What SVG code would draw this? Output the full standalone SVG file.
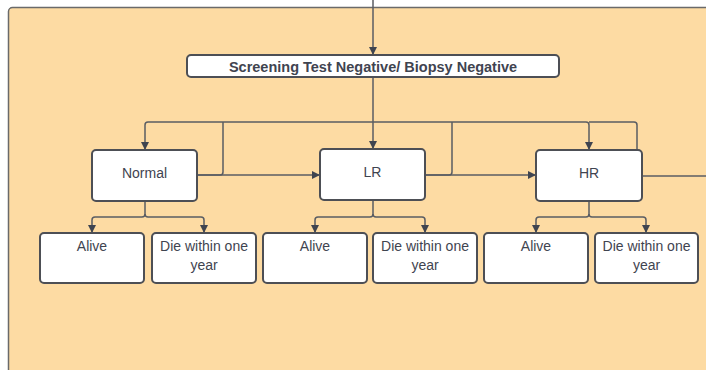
<svg xmlns="http://www.w3.org/2000/svg" width="706" height="370" viewBox="0 0 706 370">
<defs>
<marker id="arr" viewBox="0 0 10 10" refX="10" refY="5" markerWidth="8" markerHeight="8" markerUnits="userSpaceOnUse" orient="auto">
<path d="M0,0 L10,5 L0,10 z" fill="#3f4450"/>
</marker>
<style>
.node rect{fill:#ffffff;stroke:#4d4f55;stroke-width:2}
.lbl{font-family:"Liberation Sans",Arial,sans-serif;font-size:14px;fill:#3f4450;text-anchor:middle}
.ttl{font-family:"Liberation Sans",Arial,sans-serif;font-size:14.5px;font-weight:bold;fill:#3f4450;text-anchor:middle}
#connectors path{fill:none;stroke:#5a5d63;stroke-width:1.5}
.arrow{marker-end:url(#arr)}
</style>
</defs>
<rect x="0" y="0" width="706" height="370" fill="#ffffff"/>
<rect id="frame" x="8.5" y="7.5" width="720" height="400" rx="4" fill="#fddba3" stroke="#6a6a6a" stroke-width="1.5"/>

<g id="connectors">
<path class="arrow" d="M373,0 V55"/>
<path class="arrow" d="M373,77 V149"/>
<path class="arrow" d="M373,122 H148 Q145,122 145,125 V150"/>
<path class="arrow" d="M373,122 H586 Q589,122 589,125 V150"/>
<path d="M589,122 H634 Q637,122 637,125 V150"/>
<path d="M223,122 V172 Q223,175 220,175 H197"/>
<path class="arrow" d="M197,175 H320"/>
<path d="M452,122 V172 Q452,175 449,175 H425"/>
<path class="arrow" d="M425,175 H536"/>
<path d="M642,176 H706"/>
<path class="arrow" d="M145,201 V214 Q145,217 142,217 H95 Q92,217 92,220 V233"/>
<path class="arrow" d="M145,214 Q145,217 148,217 H201 Q204,217 204,220 V233"/>
<path class="arrow" d="M373,200 V214 Q373,217 370,217 H318 Q315,217 315,220 V233"/>
<path class="arrow" d="M373,214 Q373,217 376,217 H422 Q425,217 425,220 V233"/>
<path class="arrow" d="M589,201 V214 Q589,217 586,217 H539 Q536,217 536,220 V233"/>
<path class="arrow" d="M589,214 Q589,217 592,217 H643 Q646,217 646,220 V233"/>
</g>

<g id="top" class="node">
<rect x="187" y="55" width="372" height="22" rx="4"/>
<text class="ttl" x="373" y="72">Screening Test Negative/ Biopsy Negative</text>
</g>
<g id="normal" class="node">
<rect x="92" y="150" width="105" height="51" rx="4"/>
<text class="lbl" x="144.5" y="178">Normal</text>
</g>
<g id="lr" class="node">
<rect x="320" y="149" width="105" height="51" rx="4"/>
<text class="lbl" x="372.5" y="177">LR</text>
</g>
<g id="hr" class="node">
<rect x="536" y="150" width="106" height="51" rx="4"/>
<text class="lbl" x="589" y="178">HR</text>
</g>

<g id="alive1" class="node">
<rect x="40" y="233" width="104" height="50" rx="4"/>
<text class="lbl" x="92" y="251">Alive</text>
</g>
<g id="die1" class="node">
<rect x="152" y="233" width="104" height="50" rx="4"/>
<text class="lbl" x="204" y="251">Die within one</text>
<text class="lbl" x="204" y="270">year</text>
</g>
<g id="alive2" class="node">
<rect x="263" y="233" width="104" height="50" rx="4"/>
<text class="lbl" x="315" y="251">Alive</text>
</g>
<g id="die2" class="node">
<rect x="373" y="233" width="104" height="50" rx="4"/>
<text class="lbl" x="425" y="251">Die within one</text>
<text class="lbl" x="425" y="270">year</text>
</g>
<g id="alive3" class="node">
<rect x="484" y="233" width="104" height="50" rx="4"/>
<text class="lbl" x="536" y="251">Alive</text>
</g>
<g id="die3" class="node">
<rect x="595" y="233" width="103" height="50" rx="4"/>
<text class="lbl" x="646.5" y="251">Die within one</text>
<text class="lbl" x="646.5" y="270">year</text>
</g>
</svg>
